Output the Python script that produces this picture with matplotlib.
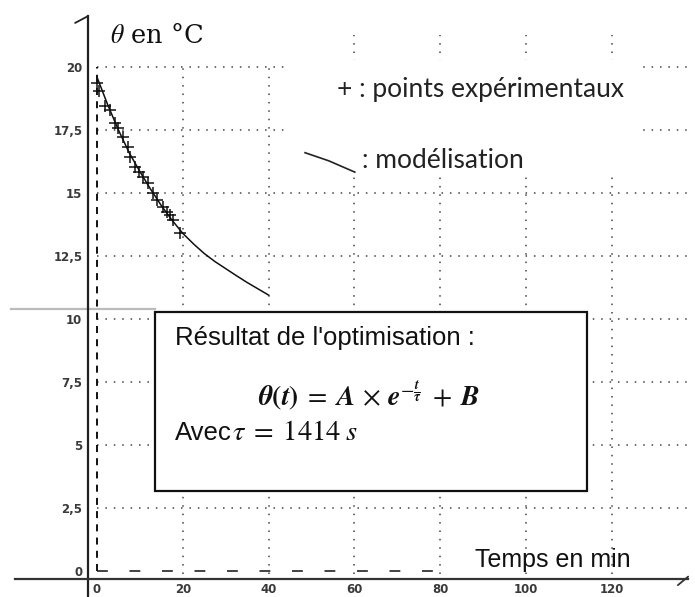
import numpy as np
import matplotlib
matplotlib.use('Agg')
import matplotlib.pyplot as plt
from matplotlib.patches import Rectangle

plt.rcParams['mathtext.fontset'] = 'stix'

# experimental points (t in min, theta in degC)
t_exp = [0, 0.5, 1.9, 3.0, 4.2, 4.9, 6.1, 7.2, 7.7, 8.9, 9.8, 10.7, 11.9, 13.1,
         14.0, 15.4, 16.3, 17.0, 17.7, 19.3]
theta_exp = [19.37, 19.05, 18.45, 18.29, 17.78, 17.58, 17.22, 16.83, 16.43, 16.03,
             15.83, 15.63, 15.40, 15.00, 14.72, 14.44, 14.25, 14.13, 13.93, 13.41]

# modelisation curve
t_mod = [0, 2.5, 5, 7.5, 10, 12.5, 15, 17.5, 20, 22.5, 25, 27.5, 30, 32.5, 35, 37.5, 40]
theta_mod = [19.6, 18.5, 17.5, 16.6, 15.85, 15.15, 14.5, 13.92, 13.4, 12.98, 12.6,
             12.28, 12.0, 11.72, 11.45, 11.2, 10.95]

x_ticks = [0, 20, 40, 60, 80, 100, 120]
y_ticks = [0, 2.5, 5, 7.5, 10, 12.5, 15, 17.5, 20]
y_labels = ['0', '2,5', '5', '7,5', '10', '12,5', '15', '17,5', '20']

fig = plt.figure(figsize=(6.95, 5.97), dpi=100)
ax = fig.add_axes([0, 0, 1, 1])
ax.set_xlim(-22.61, 139.39)
ax.set_ylim(-1.03, 22.66)

# axes lines as spines
for s in ['top', 'right']:
    ax.spines[s].set_visible(False)
ax.spines['left'].set_position(('data', -2.1))
ax.spines['bottom'].set_position(('data', -0.32))
ax.spines['left'].set_bounds(-1.03, 22.02)
ax.spines['bottom'].set_bounds(-19.1, 137.8)
ax.spines['left'].set_linewidth(1.6)
ax.spines['bottom'].set_linewidth(1.6)
ax.spines['left'].set_color('#222222')
ax.spines['bottom'].set_color('#333333')

ax.set_xticks(x_ticks)
ax.set_xticklabels([str(v) for v in x_ticks])
ax.set_yticks(y_ticks)
ax.set_yticklabels(y_labels)
ax.tick_params(length=0)
ax.tick_params(axis='x', pad=3)
ax.tick_params(axis='y', pad=4)
for lab in ax.get_xticklabels() + ax.get_yticklabels():
    lab.set_fontsize(8.5)
    lab.set_fontweight('bold')
    lab.set_color('#3a3a3a')

# arrow hooks
ax.plot([-5.1, -2.1], [21.75, 22.02], color='#222222', lw=1.3, solid_capstyle='round')
ax.plot([135.4, 137.8], [-0.56, -0.22], color='#333333', lw=1.3, solid_capstyle='round')

# dotted grid
grid_kw = dict(color='#444444', lw=1.1, linestyles=(0, (1, 4.5)), zorder=1)
ax.hlines(y_ticks[1:], 0, 138.7, **grid_kw)
ax.vlines([20, 40], -0.1, 20, **grid_kw)
ax.vlines([60, 80, 100, 120], -0.1, 21.27, **grid_kw)

# dashed guide lines
l1, = ax.plot([0, 0], [0, 20], color='#111111', lw=1.4, zorder=2)
l1.set_dashes((3.6, 3.2))
l2, = ax.plot([0, 80], [0, 0], color='#222222', lw=1.2, zorder=2)
l2.set_dashes((6.5, 13))

# scan artefact line
ax.plot([-20, 13.5], [10.4, 10.4], color='#bbbbbb', lw=1.6, zorder=2)

# white block behind legend text
ax.add_patch(Rectangle((45.0, 15.63), 81.6, 4.65, facecolor='white',
                       edgecolor='none', zorder=3))

# data
ax.plot(t_mod, theta_mod, color='#111111', lw=1.1, zorder=4)
ax.plot(t_exp, theta_exp, ls='none', marker='+', ms=9, mew=1.1,
        color='#111111', zorder=5)

# result box
ax.add_patch(Rectangle((13.5, 3.17), 100.7, 7.11, facecolor='white',
                       edgecolor='#111111', lw=1.6, zorder=6))
ax.text(18.2, 8.97, "Résultat de l'optimisation :", fontsize=18.5,
        family='Liberation Sans', va='baseline', zorder=7, color='#111111')
formula = (r'$\boldsymbol{\theta}\boldsymbol{(}\boldsymbol{t}\boldsymbol{)}\;=\;'
           r'\boldsymbol{A}\,\times\,\boldsymbol{e}^{-\frac{\boldsymbol{t}}{\boldsymbol{\tau}}}'
           r'\;+\;\boldsymbol{B}$')
ax.text(63.4, 6.55, formula, fontsize=20, ha='center', va='baseline',
        zorder=7, color='#111111')
ax.text(18.2, 5.2, 'Avec', fontsize=18.5, family='Liberation Sans',
        va='baseline', zorder=7, color='#111111')
ax.text(31.4, 5.2, r'$\tau\;=\;1414\;s$', fontsize=20.5, va='baseline',
        zorder=7, color='#111111')

# labels
ax.text(3.03, 20.95, r'$\theta$ en °C', fontsize=18.5, family='DejaVu Serif',
        va='baseline', color='#111111')
ax.text(88.1, 0.16, 'Temps en min', fontsize=18, family='Liberation Sans',
        va='baseline', color='#111111', zorder=7)

# legend
ax.text(55.9, 18.81, '+ : points expérimentaux', fontsize=19, family='Lato',
        va='baseline', color='#222222', zorder=7)
ax.plot([48.5, 54, 60.1], [16.6, 16.28, 15.83], color='#222222', lw=1.2, zorder=7)
ax.text(61.8, 15.99, ': modélisation', fontsize=19, family='Lato',
        va='baseline', color='#222222', zorder=7)

fig.savefig('out.png', dpi=100)
